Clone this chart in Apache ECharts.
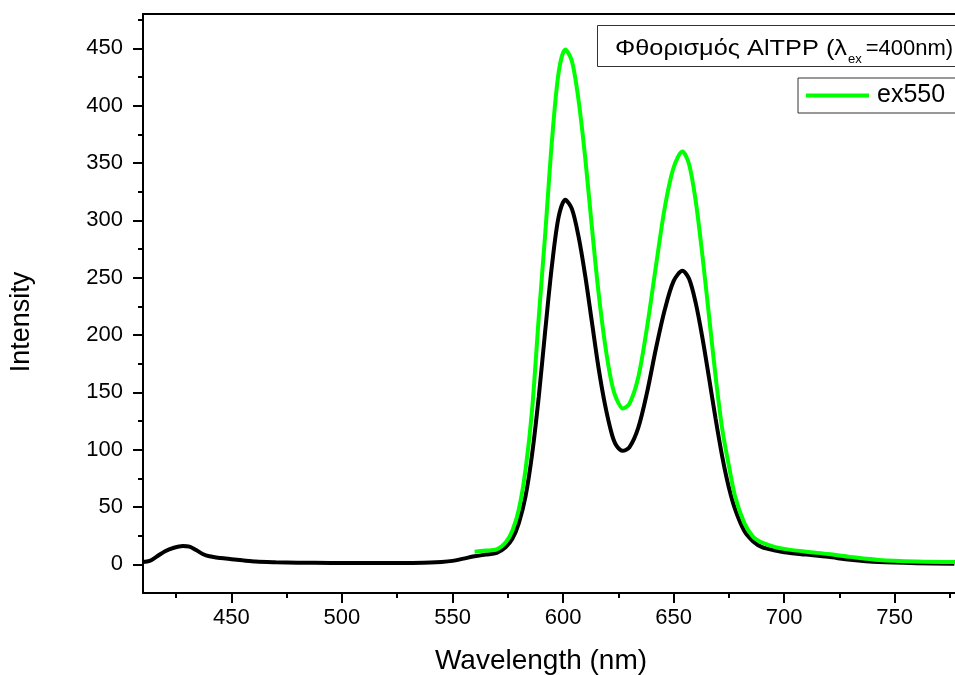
<!DOCTYPE html>
<html>
<head>
<meta charset="utf-8">
<script src="https://cdn.jsdelivr.net/npm/echarts@6/dist/echarts.min.js"></script>
<style>html,body{margin:0;padding:0;background:#fff;}#chart{width:955px;height:675px;}</style>
</head>
<body>
<div id="chart"></div>
<script>
// Black curve (AlTPP fluorescence, λex = 400 nm)
const blackWavelength = [410,413,416,420,424,428,431,434,437,440,445,450,455,461,470,480,495,510,530,540,545,550,555,560,565,570,574,577,580,583,586,589,592,595,598,601,604,607,610,613,616,619,622,624,627,630,634,638,642,646,650,654,657,660,663,666,669,672,675,678,682,686,690,696,700,710,720,730,743,760,777];
const blackIntensity  = [2,3,6.5,11.5,14.5,16,15.5,12.5,9,7,5.5,4.5,3.5,2.4,1.8,1.4,1.2,1.1,1.1,1.5,2,3,5,7,8.5,10,15,22,36,59,96,146,205,261,303,318,310,286,252,212,172,139,114,104,99,102,119,150,188,222,247,256,249,228,198,163,127,94,67,47,29,20,15,12,10.5,8.5,6.5,4,2,1,0.6];
// Green curve (ex550)
const greenWavelength = [560,565,570,574,577,580,583,586,589,592,595,598,601,604,607,610,613,616,619,622,624,627,630,634,638,642,646,650,654,657,660,663,666,669,672,675,678,682,686,690,696,700,710,720,730,743,760,778];
const greenIntensity  = [11,12,13,19,29,48,82,135,215,290,370,429,449,439,405,355,295,238,192,158,145,136,140,163,207,260,311,346,360,349,317,270,217,164,118,86,58,36,24,19,15,13.5,11,9,6.5,3.8,2.5,2];

const xMajorTicks = [450,500,550,600,650,700,750];
const xMinorTicks = [425,475,525,575,625,675,725,775];
const yMajorTicks = [0,50,100,150,200,250,300,350,400,450];
const yMinorTicks = [25,75,125,175,225,275,325,375,425,475];

const seriesNameGreen = 'ex550';
const titleMain = 'Φθορισμός AlTPP (λ';
const titleSub = 'ex';
const titleEnd = '=400nm)';
const xName = 'Wavelength (nm)';
const yName = 'Intensity';

const FONT = '"Liberation Sans", Arial, sans-serif';
const chart = echarts.init(document.getElementById('chart'), null, {renderer: 'canvas'});

const pairs = (xs, ys) => xs.map((x, i) => [x, ys[i]]);

// text measurement for the title label layout
const mctx = document.createElement('canvas').getContext('2d');
function measure(text, size) { mctx.font = size + 'px ' + FONT; return mctx.measureText(text).width; }

const titleLeft = 615, titleBaseline = 55;
const mainSize = 22, subSize = 13, endSize = 22;
const mainWidthTarget = 232;
const mainScale = mainWidthTarget / measure(titleMain, mainSize);
const subX = titleLeft + mainWidthTarget + 1;
const endX = subX + measure(titleSub, subSize) + 4;
const DESC = 0.212; // descent ratio of Liberation Sans (bottom of em box below baseline)

const axisCommon = {type: 'value', splitLine: {show: false}};

chart.setOption({
  animation: false,
  backgroundColor: '#fff',
  grid: {left: 143, top: 14, width: 818, height: 579, show: true, borderColor: '#000', borderWidth: 2,
         backgroundColor: 'transparent', containLabel: false, outerBoundsMode: 'none'},
  legend: {
    data: [seriesNameGreen],
    left: 798, top: 78,
    padding: [5, 20, 5, 8],
    borderColor: '#333', borderWidth: 1, backgroundColor: '#fff',
    icon: 'rect', itemWidth: 63, itemHeight: 4,
    textStyle: {fontFamily: FONT, fontSize: 25, color: '#000', padding: [0, 0, 0, 3]}
  },
  xAxis: [
    Object.assign({}, axisCommon, {
      min: 410, max: 780, position: 'bottom',
      axisLine: {show: true, onZero: false, lineStyle: {color: '#000', width: 2}},
      axisTick: {show: true, customValues: xMajorTicks, length: 10, lineStyle: {color: '#000', width: 2}},
      axisLabel: {show: true, customValues: xMajorTicks, fontFamily: FONT, fontSize: 22, color: '#000', margin: 14}
    }),
    Object.assign({}, axisCommon, {
      min: 410, max: 780, position: 'bottom',
      axisLine: {show: false, onZero: false},
      axisTick: {show: true, customValues: xMinorTicks, length: 5, lineStyle: {color: '#000', width: 2}},
      axisLabel: {show: false}
    })
  ],
  yAxis: [
    Object.assign({}, axisCommon, {
      min: -25, max: 480, position: 'left',
      axisLine: {show: true, onZero: false, lineStyle: {color: '#000', width: 2}},
      axisTick: {show: true, customValues: yMajorTicks, length: 10, lineStyle: {color: '#000', width: 2}},
      axisLabel: {show: true, customValues: yMajorTicks, fontFamily: FONT, fontSize: 22, color: '#000', margin: 20}
    }),
    Object.assign({}, axisCommon, {
      min: -25, max: 480, position: 'left',
      axisLine: {show: false, onZero: false},
      axisTick: {show: true, customValues: yMinorTicks, length: 5, lineStyle: {color: '#000', width: 2}},
      axisLabel: {show: false}
    })
  ],
  graphic: [
    {type: 'text', x: 541, y: 661, style: {text: xName, fontFamily: FONT, fontSize: 28, fill: '#000', align: 'center', verticalAlign: 'middle'}},
    {type: 'text', x: 22, y: 322, rotation: Math.PI / 2, style: {text: yName, fontFamily: FONT, fontSize: 27, fill: '#000', align: 'center', verticalAlign: 'middle'}},
    {type: 'rect', shape: {x: 597.5, y: 25.5, width: 400, height: 41}, style: {fill: '#fff', stroke: '#333', lineWidth: 1}, z: 50},
    {type: 'text', x: titleLeft, y: titleBaseline + DESC * mainSize, scaleX: mainScale, z: 51,
     style: {text: titleMain, fontFamily: FONT, fontSize: mainSize, fill: '#000', align: 'left', verticalAlign: 'bottom'}},
    {type: 'text', x: subX, y: titleBaseline + 8 + DESC * subSize, z: 51,
     style: {text: titleSub, fontFamily: FONT, fontSize: subSize, fill: '#000', align: 'left', verticalAlign: 'bottom'}},
    {type: 'text', x: endX, y: titleBaseline + DESC * endSize, z: 51,
     style: {text: titleEnd, fontFamily: FONT, fontSize: endSize, fill: '#000', align: 'left', verticalAlign: 'bottom'}}
  ],
  series: [
    {
      name: 'black', type: 'line', xAxisIndex: 0, yAxisIndex: 0,
      data: pairs(blackWavelength, blackIntensity),
      showSymbol: false, smooth: 0.3, clip: true,
      lineStyle: {color: '#000', width: 4}, itemStyle: {color: '#000'}
    },
    {
      name: seriesNameGreen, type: 'line', xAxisIndex: 0, yAxisIndex: 0,
      data: pairs(greenWavelength, greenIntensity),
      showSymbol: false, smooth: 0.3, clip: true,
      lineStyle: {color: '#00ff00', width: 4}, itemStyle: {color: '#00ff00'}
    }
  ]
});
</script>
</body>
</html>
